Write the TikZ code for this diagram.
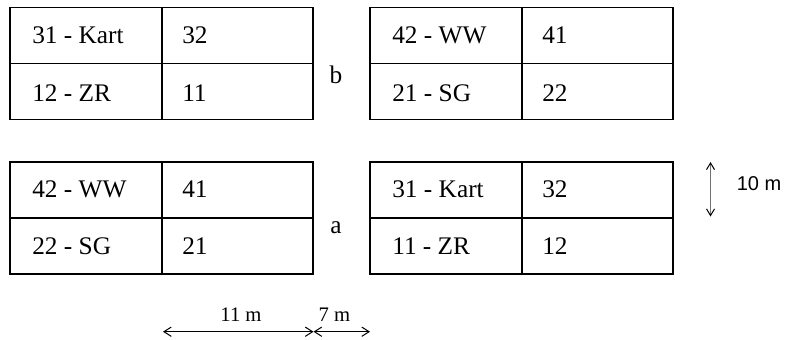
\documentclass[tikz,border=0pt]{standalone}
\usepackage{fontspec}
\setmainfont{Liberation Serif}
\newfontfamily\arialf{Liberation Sans}
\usetikzlibrary{arrows.meta}
\begin{document}
\begin{tikzpicture}[x=0.75pt,y=-0.75pt,
  boxline/.style={line width=1.4pt,line join=miter},
  celltext/.style={anchor=base west,inner sep=0pt,font=\fontsize{19}{22}\selectfont},
  sidelabel/.style={anchor=base,inner sep=0pt,font=\fontsize{19}{22}\selectfont},
  dimtext/.style={anchor=base,inner sep=0pt,font=\fontsize{15.5}{18}\selectfont},
  dimarrow/.style={line width=0.75pt,{Straight Barb[length=5.5pt,width=7pt]}-{Straight Barb[length=5.5pt,width=7pt]}},
  vdimarrow/.style={line width=0.75pt,draw=black!55,{Straight Barb[length=5pt,width=6pt,color=black]}-{Straight Barb[length=5pt,width=6pt,color=black]}}]
\useasboundingbox (0,0) rectangle (787,339);
% box b-left
\draw[boxline] (10,7.5) rectangle (313,119.5);
\draw[boxline] (10,63.5) -- (313,63.5) (162,7.5) -- (162,119.5);
% box b-right
\draw[boxline] (370,7.5) rectangle (673,119.5);
\draw[boxline] (370,63.5) -- (673,63.5) (522,7.5) -- (522,119.5);
% box a-left
\draw[boxline] (10,162) rectangle (313,274);
\draw[boxline] (10,218) -- (313,218) (162,162) -- (162,274);
% box a-right
\draw[boxline] (370,162) rectangle (673,274);
\draw[boxline] (370,218) -- (673,218) (522,162) -- (522,274);
% texts
\node[celltext] (t1) at (32,43.3) {31 - Kart};
\node[celltext] (t2) at (182,43.3) {32};
\node[celltext] (t3) at (32,101) {12 - ZR};
\node[celltext] (t4) at (182,101) {11};
\node[celltext] (t5) at (392,43.3) {42 - WW};
\node[celltext] (t6) at (542,43.3) {41};
\node[celltext] (t7) at (392,101) {21 - SG};
\node[celltext] (t8) at (542,101) {22};
\node[celltext] (t9) at (32,197) {42 - WW};
\node[celltext] (t10) at (182,197) {41};
\node[celltext] (t11) at (32,254) {22 - SG};
\node[celltext] (t12) at (182,254) {21};
\node[celltext] (t13) at (392,197) {31 - Kart};
\node[celltext] (t14) at (542,197) {32};
\node[celltext] (t15) at (392,254) {11 - ZR};
\node[celltext] (t16) at (542,254) {12};
\node[sidelabel] (lb) at (336,83) {b};
\node[sidelabel] (la) at (336,233) {a};
% vertical dimension
\coordinate (vtop) at (710.5,162);
\coordinate (vbot) at (710.5,216.5);
\draw[vdimarrow] (vtop) -- (vbot);
\node[anchor=base west,inner sep=0pt,font=\arialf\fontsize{15}{18}\selectfont] (tenm) at (736.5,190.7) {10 m};
% horizontal dimensions
\coordinate (h1) at (163,331.7);
\coordinate (h2) at (313.5,331.7);
\coordinate (h3) at (370,331.7);
\draw[dimarrow] (h1) -- (h2);
\draw[dimarrow] (h2) -- (h3);
\node[dimtext] (elevm) at (241,321.7) {11 m};
\node[dimtext] (sevm) at (334.5,321.7) {7 m};
\end{tikzpicture}
\end{document}
